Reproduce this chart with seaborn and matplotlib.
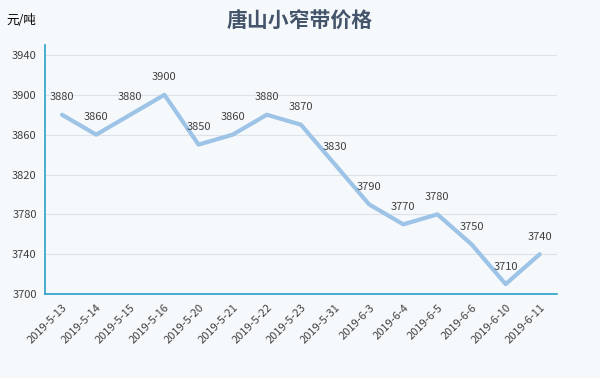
import numpy as np
import pandas as pd
import matplotlib
matplotlib.use("Agg")
import matplotlib.pyplot as plt
import seaborn as sns

dates = ["2019-5-13", "2019-5-14", "2019-5-15", "2019-5-16", "2019-5-20", "2019-5-21",
         "2019-5-22", "2019-5-23", "2019-5-31", "2019-6-3", "2019-6-4", "2019-6-5",
         "2019-6-6", "2019-6-10", "2019-6-11"]
prices = [3880, 3860, 3880, 3900, 3850, 3860, 3880, 3870, 3830, 3790, 3770, 3780,
          3750, 3710, 3740]
yticks = [3700, 3740, 3780, 3820, 3860, 3900, 3940]

sns.set_style("white")
plt.rcParams['font.family'] = ['Noto Sans CJK SC', 'DejaVu Sans']

df = pd.DataFrame({"pos": np.arange(len(dates)), "price": prices})

fig = plt.figure(figsize=(6, 3.78), dpi=100)
fig.patch.set_facecolor("#f6f9fc")
ax = fig.add_axes([0.075, 0.222, 0.853, 0.659])
ax.set_facecolor("#f6f9fc")

sns.lineplot(data=df, x="pos", y="price", ax=ax, color="#9dc3e6", linewidth=3)

for i, v in enumerate(prices):
    ax.annotate(str(v), (i, v), xytext=(0, 9), textcoords="offset points",
                ha="center", va="bottom", fontsize=8, color="#404040")

ax.set_xlim(-0.5, len(dates) - 0.5)
ax.set_ylim(3700, 3950)
ax.set_yticks(yticks)
ax.set_yticklabels([str(t) for t in yticks], fontsize=8, color="#404040")
for t in yticks[1:]:
    ax.axhline(t, color="#dde3e8", linewidth=0.8, zorder=0)

ax.set_xticks(np.arange(len(dates)))
ax.set_xticklabels(dates, rotation=45, ha="right", rotation_mode="anchor",
                   fontsize=8, color="#404040")
ax.set_xticks(np.arange(-0.5, len(dates)), minor=True)
ax.tick_params(axis="x", which="major", length=0, pad=6)
ax.tick_params(axis="x", which="minor", length=4, color="#2aa0c8", width=1)
ax.tick_params(axis="y", length=0, pad=6)

for s in ["top", "right"]:
    ax.spines[s].set_visible(False)
for s in ["left", "bottom"]:
    ax.spines[s].set_color("#2aa0c8")
    ax.spines[s].set_linewidth(1.2)

ax.set_xlabel("")
ax.set_ylabel("")

fig.text(0.5, 0.945, "唐山小窄带价格", ha="center", va="center", fontsize=15,
         fontweight="bold", color="#44546a")
fig.text(0.01, 0.945, "元/吨", ha="left", va="center", fontsize=9, color="#000000")

fig.savefig("out.png", dpi=100, facecolor=fig.get_facecolor())
